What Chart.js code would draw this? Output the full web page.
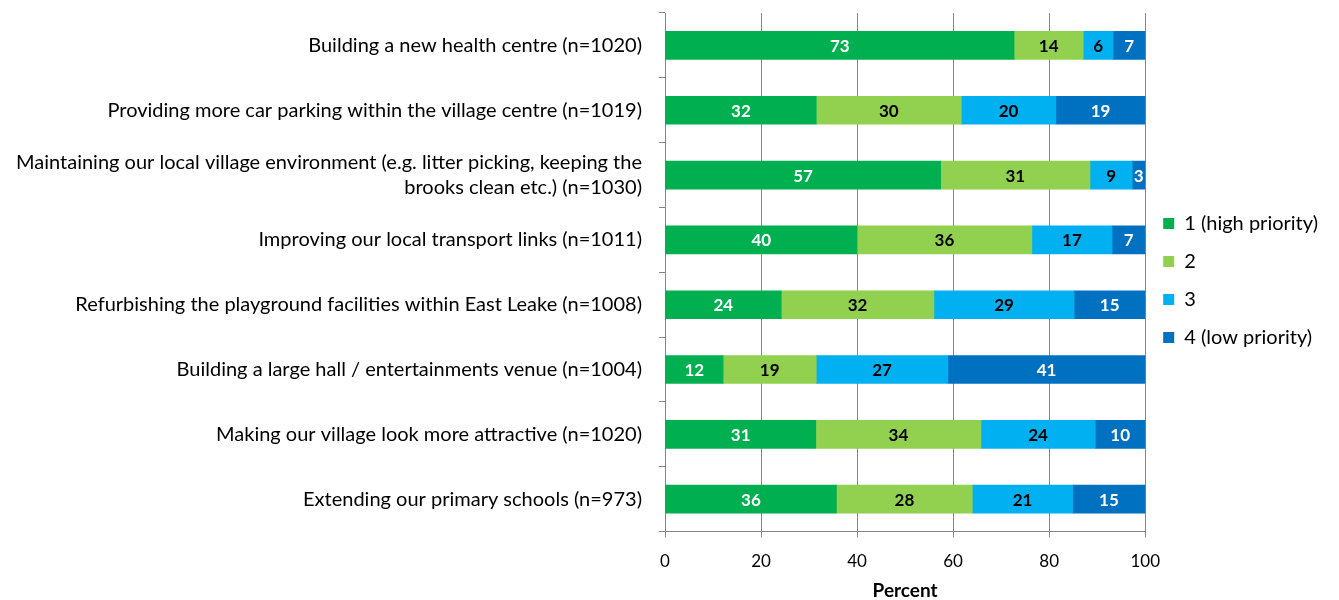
<!DOCTYPE html>
<html>
<head>
<meta charset="utf-8">
<script src="https://cdn.jsdelivr.net/npm/chart.js@4/dist/chart.umd.min.js"></script>
<style>
  body { margin: 0; background: #fff; }
  #wrap { width: 1339px; height: 600px; }
</style>
</head>
<body>
<div id="wrap"><canvas id="chart" width="1339" height="600"></canvas></div>
<script>
// --- DATA ---
const categories = [
  'Building a new health centre (n=1020)',
  'Providing more car parking within the village centre (n=1019)',
  ['Maintaining our local village environment (e.g. litter picking, keeping the', 'brooks clean etc.) (n=1030)'],
  'Improving our local transport links (n=1011)',
  'Refurbishing the playground facilities within East Leake (n=1008)',
  'Building a large hall / entertainments venue (n=1004)',
  'Making our village look more attractive (n=1020)',
  'Extending our primary schools (n=973)'
];
const seriesNames = ['1 (high priority)', '2', '3', '4 (low priority)'];
const priority1 = [72.7, 31.5, 57.4, 40.0, 24.2, 12.1, 31.4, 35.7];
const priority2 = [14.4, 30.2, 31.1, 36.4, 31.8, 19.4, 34.4, 28.3];
const priority3 = [6.2, 19.7, 8.8, 16.7, 29.2, 27.4, 23.8, 20.9];
const priority4 = [6.7, 18.6, 2.7, 6.9, 14.8, 41.1, 10.4, 15.1];
const xTicks = [0, 20, 40, 60, 80, 100];

const colors = ['#00B050', '#92D050', '#00B0F0', '#0070C0'];
const labelColors = ['#ffffff', '#000000', '#000000', '#ffffff'];
const FONT = 'Lato, "Open Sans", sans-serif';
const AXIS = '#868686';
const LEGEND_SHIFT = -26;

// --- BAR VALUE LABELS ---
const barLabels = {
  id: 'barLabels',
  afterDatasetsDraw(chart) {
    const ctx = chart.ctx;
    ctx.save();
    ctx.font = 'bold 17px ' + FONT;
    ctx.textAlign = 'center';
    ctx.textBaseline = 'middle';
    chart.data.datasets.forEach((ds, i) => {
      chart.getDatasetMeta(i).data.forEach((bar, j) => {
        const p = bar.getCenterPoint();
        ctx.fillStyle = labelColors[i];
        ctx.fillText(Math.round(ds.data[j]), p.x, p.y + 1);
      });
    });
    ctx.restore();
  }
};

// legend sits a bit above the middle in the original
const legendNudge = {
  id: 'legendNudge',
  afterLayout(chart) {
    if (!chart.legend) return;
    chart.legend.top += LEGEND_SHIFT;
    chart.legend.bottom += LEGEND_SHIFT;
  }
};

const seriesData = [priority1, priority2, priority3, priority4];

new Chart(document.getElementById('chart').getContext('2d'), {
  type: 'bar',
  data: {
    labels: categories,
    datasets: seriesData.map((d, i) => ({
      label: seriesNames[i],
      data: d,
      backgroundColor: colors[i],
      borderWidth: 0,
      barThickness: 28
    }))
  },
  options: {
    indexAxis: 'y',
    responsive: false,
    animation: false,
    devicePixelRatio: 1,
    layout: { padding: { top: 13, right: 11, bottom: 0, left: 0 } },
    scales: {
      x: {
        stacked: true,
        min: 0,
        max: 100,
        afterBuildTicks: s => { s.ticks = xTicks.map(v => ({ value: v })); },
        grid: { color: AXIS, tickLength: 6, tickColor: AXIS },
        border: { color: AXIS },
        ticks: { color: '#000', font: { family: FONT, size: 17, lineHeight: 1.2 }, padding: 14 },
        title: { display: true, text: 'Percent', color: '#000', font: { family: FONT, size: 19, weight: 'bold', lineHeight: 1.0 }, padding: { top: -5, bottom: 0 } }
      },
      y: {
        stacked: true,
        afterFit: s => { s.width = 665; s.paddingTop = 0; s.paddingBottom = 0; },
        grid: { offset: true, drawOnChartArea: false, tickLength: 6, color: AXIS },
        border: { color: AXIS },
        ticks: { color: '#000', font: { family: FONT, size: 20, lineHeight: 1.25 }, padding: 17 }
      }
    },
    plugins: {
      tooltip: { enabled: false },
      legend: {
        position: 'right',
        labels: {
          color: '#000',
          font: { family: FONT, size: 20 },
          boxWidth: 11,
          boxHeight: 11,
          padding: 18
        }
      }
    }
  },
  plugins: [barLabels, legendNudge]
});
</script>
</body>
</html>
